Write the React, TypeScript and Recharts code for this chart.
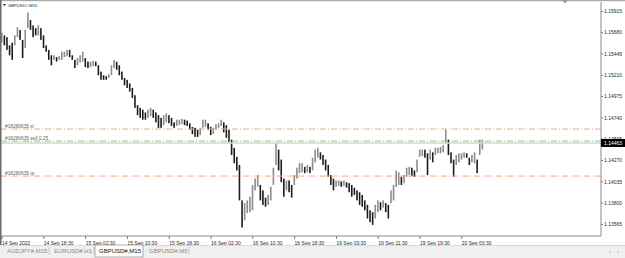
import React from 'react';
import { ComposedChart, Bar, XAxis, YAxis, ReferenceLine } from 'recharts';

const symbolTitle = 'GBPUSD#,M15';

// 30-minute candles (high / low)
const highs = [
  1.1568, 1.1565, 1.1563, 1.1554, 1.1557, 1.1565, 1.1574, 1.1571, 1.1560, 1.1571,
  1.1590, 1.1582, 1.1576, 1.1573, 1.1576, 1.1573, 1.1565, 1.1554, 1.1549, 1.1543,
  1.1543, 1.1541, 1.1542, 1.1547, 1.1547, 1.1549, 1.1549, 1.1543, 1.1538, 1.1540,
  1.1543, 1.1547, 1.1540, 1.1536, 1.1536, 1.1537, 1.1536, 1.1532, 1.1525, 1.1521,
  1.1520, 1.1522, 1.1532, 1.1538, 1.1536, 1.1532, 1.1525, 1.1518, 1.1516, 1.1512,
  1.1507, 1.1499, 1.1488, 1.1485, 1.1483, 1.1480, 1.1483, 1.1485, 1.1483, 1.1480,
  1.1477, 1.1474, 1.1477, 1.1479, 1.1477, 1.1474, 1.1469, 1.1472, 1.1472, 1.1473,
  1.1472, 1.1471, 1.1468, 1.1464, 1.1463, 1.1461, 1.1463, 1.1472, 1.1472, 1.1468,
  1.1464, 1.1463, 1.1467, 1.1468, 1.1472, 1.1469, 1.1466, 1.1461, 1.1450, 1.1441,
  1.1431, 1.1422, 1.1383, 1.1380, 1.1383, 1.1387, 1.1400, 1.1407, 1.1411, 1.1400,
  1.1394, 1.1386, 1.1389, 1.1398, 1.1419, 1.1446, 1.1439, 1.1428, 1.1407, 1.1405,
  1.1405, 1.1400, 1.1411, 1.1419, 1.1424, 1.1424, 1.1420, 1.1422, 1.1420, 1.1430,
  1.1439, 1.1441, 1.1436, 1.1433, 1.1428, 1.1422, 1.1411, 1.1407, 1.1405, 1.1405,
  1.1404, 1.1405, 1.1403, 1.1402, 1.1400, 1.1397, 1.1394, 1.1392, 1.1389, 1.1383,
  1.1378, 1.1372, 1.1370, 1.1378, 1.1383, 1.1381, 1.1383, 1.1380, 1.1378, 1.1394,
  1.1400, 1.1416, 1.1414, 1.1409, 1.1411, 1.1419, 1.1420, 1.1419, 1.1416, 1.1428,
  1.1439, 1.1439, 1.1439, 1.1435, 1.1439, 1.1436, 1.1441, 1.1441, 1.1442, 1.1444,
  1.1461, 1.1450, 1.1436, 1.1428, 1.1433, 1.1435, 1.1435, 1.1436, 1.1435, 1.1430,
  1.1433, 1.1436, 1.1428, 1.1450, 1.1450,
];
const lows = [
  1.1557, 1.1554, 1.1549, 1.1543, 1.1538, 1.1554, 1.1563, 1.1560, 1.1540, 1.1551,
  1.1573, 1.1571, 1.1563, 1.1565, 1.1565, 1.1560, 1.1551, 1.1547, 1.1538, 1.1532,
  1.1538, 1.1536, 1.1538, 1.1538, 1.1541, 1.1542, 1.1541, 1.1538, 1.1529, 1.1532,
  1.1535, 1.1536, 1.1530, 1.1529, 1.1530, 1.1531, 1.1531, 1.1521, 1.1516, 1.1516,
  1.1516, 1.1518, 1.1521, 1.1529, 1.1527, 1.1521, 1.1516, 1.1510, 1.1507, 1.1503,
  1.1496, 1.1485, 1.1477, 1.1474, 1.1472, 1.1472, 1.1474, 1.1476, 1.1474, 1.1469,
  1.1463, 1.1463, 1.1466, 1.1469, 1.1468, 1.1465, 1.1463, 1.1465, 1.1466, 1.1467,
  1.1466, 1.1465, 1.1461, 1.1456, 1.1453, 1.1453, 1.1455, 1.1463, 1.1464, 1.1461,
  1.1455, 1.1456, 1.1461, 1.1463, 1.1465, 1.1458, 1.1452, 1.1447, 1.1433, 1.1424,
  1.1416, 1.1383, 1.1353, 1.1361, 1.1369, 1.1370, 1.1372, 1.1394, 1.1398, 1.1383,
  1.1378, 1.1376, 1.1378, 1.1383, 1.1400, 1.1422, 1.1416, 1.1403, 1.1387, 1.1394,
  1.1392, 1.1386, 1.1400, 1.1407, 1.1413, 1.1414, 1.1413, 1.1414, 1.1413, 1.1416,
  1.1425, 1.1430, 1.1428, 1.1422, 1.1416, 1.1409, 1.1400, 1.1394, 1.1398, 1.1399,
  1.1398, 1.1399, 1.1397, 1.1392, 1.1387, 1.1389, 1.1383, 1.1378, 1.1376, 1.1372,
  1.1363, 1.1359, 1.1356, 1.1363, 1.1370, 1.1372, 1.1375, 1.1370, 1.1363, 1.1380,
  1.1383, 1.1398, 1.1400, 1.1400, 1.1402, 1.1409, 1.1411, 1.1410, 1.1409, 1.1414,
  1.1431, 1.1432, 1.1430, 1.1411, 1.1428, 1.1425, 1.1433, 1.1435, 1.1435, 1.1436,
  1.1446, 1.1433, 1.1424, 1.1409, 1.1422, 1.1425, 1.1428, 1.1430, 1.1430, 1.1422,
  1.1425, 1.1424, 1.1413, 1.1433, 1.1439,
];

const timeTickIndex = [0, 16, 32, 48, 64, 80, 96, 112, 128, 144, 160, 176];
const timeTickLabels = [
  '14 Sep 2022', '14 Sep 18:30', '15 Sep 02:30', '15 Sep 10:30', '15 Sep 18:30', '16 Sep 02:30',
  '16 Sep 10:30', '16 Sep 18:30', '19 Sep 03:30', '19 Sep 11:30', '19 Sep 19:30', '20 Sep 03:30',
];
const priceTicks = [1.15915, 1.1568, 1.15445, 1.1521, 1.14975, 1.1474, 1.14505, 1.1427, 1.14035, 1.138, 1.13565];
const bidPrice = 1.14463;
const orderLabels = ['#18280635 sl', '#18280635 sell 0.25', '#18280635 tp'];
const orderPrices = [1.14617, 1.14484, 1.14098];
const tabNames = ['AUDJPY#,M15', 'EURUSD#,H1', 'GBPUSD#,M15', 'GBPUSD#,M5'];
const activeTab = 'GBPUSD#,M15';

const data = highs.map((h, i) => ({
  i,
  range: [lows[i], h],
  up: i === 0 ? true : h + lows[i] >= highs[i - 1] + lows[i - 1],
}));

const FONT = '"Liberation Sans", Arial, sans-serif';
const orderColors = ['#f5a88a', '#86cc86', '#f5a88a'];

const Candle = (props: any) => {
  const { x, y, width, height, payload } = props;
  if (x == null || y == null) return null;
  const top = Math.min(y, y + height);
  const h = Math.max(Math.abs(height), 1);
  const cx = x + width / 2;
  return <rect x={cx - 0.8} y={top} width={1.6} height={h} fill={payload.up ? '#8c8c8c' : '#1c1c1c'} />;
};

const TimeTick = (props: any) => {
  const { x, y, payload } = props;
  const idx = timeTickIndex.indexOf(payload.value);
  return (
    <text x={x} y={y + 3.5} fontSize={5} fontFamily={FONT} fill="#2a2a2a" textAnchor="start">
      {timeTickLabels[idx]}
    </text>
  );
};

const PriceTick = (props: any) => {
  const { x, y, payload } = props;
  if (payload.value === bidPrice) {
    return (
      <g>
        <rect x={x - 3} y={y - 4} width={27} height={8} fill="#000" />
        <text x={x} y={y + 1.8} fontSize={5} fontFamily={FONT} fill="#fff" textAnchor="start">
          {bidPrice.toFixed(5)}
        </text>
      </g>
    );
  }
  return (
    <text x={x} y={y + 1.8} fontSize={5} fontFamily={FONT} fill="#2a2a2a" textAnchor="start">
      {payload.value.toFixed(5)}
    </text>
  );
};

const OrderLabel = (props: any) => {
  const { viewBox, text } = props;
  if (!viewBox) return null;
  return (
    <text x={viewBox.x + 4} y={viewBox.y - 1.2} fontSize={4.8} fontFamily={FONT} fill="#666">
      {text}
    </text>
  );
};

const tabX = [5, 52, 97, 147];
const tabW = [45, 43, 48, 43];

export default function App() {
  return (
    <div style={{ position: 'absolute', left: 0, top: 0, width: 625, height: 258, background: '#fff', overflow: 'hidden' }}>
      <ComposedChart width={625} height={258} data={data} margin={{ top: 2, right: 0, bottom: 0, left: 1 }}>
        <XAxis
          type="number"
          dataKey="i"
          domain={[-0.4, 229.3]}
          ticks={timeTickIndex}
          interval={0}
          height={22}
          tick={<TimeTick />}
          tickSize={3}
          tickLine={{ stroke: '#777' }}
          axisLine={{ stroke: '#8a8a8a' }}
          allowDataOverflow
        />
        <YAxis
          orientation="right"
          type="number"
          domain={[1.13437, 1.16018]}
          ticks={[...priceTicks, bidPrice]}
          interval={0}
          width={24}
          tick={<PriceTick />}
          tickSize={2}
          tickMargin={1}
          tickLine={{ stroke: '#777' }}
          axisLine={{ stroke: '#8a8a8a' }}
          allowDataOverflow
        />
        <ReferenceLine y={bidPrice} stroke="#d6d6d6" strokeWidth={1.5} ifOverflow="hidden" />
        {orderPrices.map((p, k) => (
          <ReferenceLine
            key={orderLabels[k]}
            y={p}
            stroke={orderColors[k]}
            strokeWidth={1}
            strokeDasharray="6 2 1 2"
            label={<OrderLabel text={orderLabels[k]} />}
          />
        ))}
        <Bar dataKey="range" barSize={2} shape={<Candle />} isAnimationActive={false} />
      </ComposedChart>
      <svg width={625} height={258} style={{ position: 'absolute', left: 0, top: 0, pointerEvents: 'none' }}>
        <rect x={0} y={0} width={625} height={1.2} fill="#a8a8a8" />
        <rect x={0} y={0} width={1.5} height={245} fill="#6a6a6a" />
        <polygon points="562,0 568,0 565,3.5" fill="#9a9a9a" />
        <polygon points="3,4 6,4 4.5,6" fill="#222" />
        <text x={8} y={6.6} fontSize={4.2} fontFamily={FONT} fill="#222">{symbolTitle}</text>
        <rect x={0} y={245} width={625} height={13} fill="#f0f0f0" />
        <line x1={0} y1={245.5} x2={625} y2={245.5} stroke="#dadada" />
        {tabNames.map((t, k) => {
          const active = t === activeTab;
          return (
            <g key={t}>
              {active && <rect x={tabX[k] - 2} y={245} width={tabW[k]} height={12} fill="#fff" stroke="#9a9a9a" strokeWidth={0.8} />}
              {!active && <line x1={tabX[k] + tabW[k] - 1} y1={247} x2={tabX[k] + tabW[k] - 1} y2={255} stroke="#c8c8c8" />}
              <text x={tabX[k] + 2} y={253} fontSize={6} fontFamily={FONT} fill={active ? '#111' : '#8a8a8a'}>{t}</text>
            </g>
          );
        })}
        <text x={609} y={252.5} fontSize={5} fontFamily={FONT} fill="#888">‹</text>
        <text x={617} y={252.5} fontSize={5} fontFamily={FONT} fill="#888">›</text>
      </svg>
    </div>
  );
}
